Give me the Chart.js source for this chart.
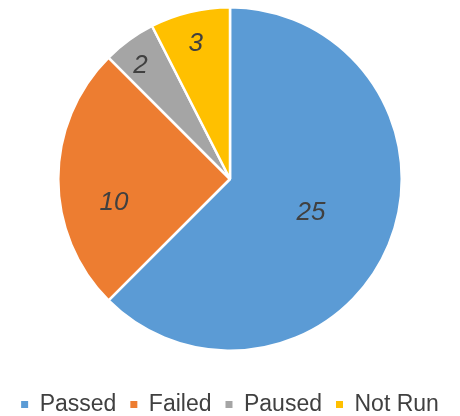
<!DOCTYPE html>
<html>
<head>
<meta charset="utf-8">
<script src="https://cdn.jsdelivr.net/npm/chart.js@4"></script>
<style>
  html, body { margin: 0; padding: 0; background: #fff; }
  #wrap { width: 460px; height: 416px; }
</style>
</head>
<body>
<div id="wrap"><canvas id="statusChart" width="460" height="416"></canvas></div>
<script>
// chart data
const categories = ["Passed", "Failed", "Paused", "Not Run"];
const counts = [25, 10, 2, 3];
const sliceColors = ["#5B9BD5", "#ED7D31", "#A5A5A5", "#FFC000"];
// where each value label sits: share of the slice's sweep, and share of the radius
const labelSweep = [0.5, 0.37, 0.37, 0.47];
const labelRadius = [0.51, 0.69, 0.84, 0.81];
const textColor = "#404040";

// draws the italic value labels inside the slices
const valueLabels = {
  id: "valueLabels",
  afterDatasetsDraw(chart) {
    const ctx = chart.ctx;
    const arcs = chart.getDatasetMeta(0).data;
    ctx.save();
    ctx.font = "italic 26px 'Liberation Sans', Arial, sans-serif";
    ctx.fillStyle = textColor;
    ctx.textAlign = "center";
    ctx.textBaseline = "middle";
    arcs.forEach(function (arc, i) {
      const a = arc.startAngle + (arc.endAngle - arc.startAngle) * labelSweep[i];
      const r = arc.outerRadius * labelRadius[i];
      ctx.fillText(String(counts[i]), arc.x + Math.cos(a) * r, arc.y + Math.sin(a) * r);
    });
    ctx.restore();
  }
};

new Chart(document.getElementById("statusChart"), {
  type: "pie",
  data: {
    labels: categories,
    datasets: [{
      data: counts,
      backgroundColor: sliceColors,
      borderColor: "#fff",
      borderWidth: 2.5
    }]
  },
  options: {
    responsive: false,
    animation: false,
    // legend is pushed down a little past the bottom edge so the pie keeps its size
    layout: { padding: { top: 6, bottom: -10 } },
    plugins: {
      tooltip: { enabled: false },
      legend: {
        position: "bottom",
        // empty title only used as a spacer between pie and legend
        title: { display: true, text: "", font: { size: 10, lineHeight: 1 }, padding: { top: 17, bottom: 0 } },
        labels: {
          color: textColor,
          font: { family: "'Liberation Sans', Arial, sans-serif", size: 23 },
          boxWidth: 7,
          boxHeight: 7,
          padding: 14,
          generateLabels: function () {
            return categories.map(function (name, i) {
              return {
                text: name,
                fillStyle: sliceColors[i],
                strokeStyle: sliceColors[i],
                fontColor: textColor,
                lineWidth: 0,
                index: i
              };
            });
          }
        }
      }
    }
  },
  plugins: [valueLabels]
});
</script>
</body>
</html>
